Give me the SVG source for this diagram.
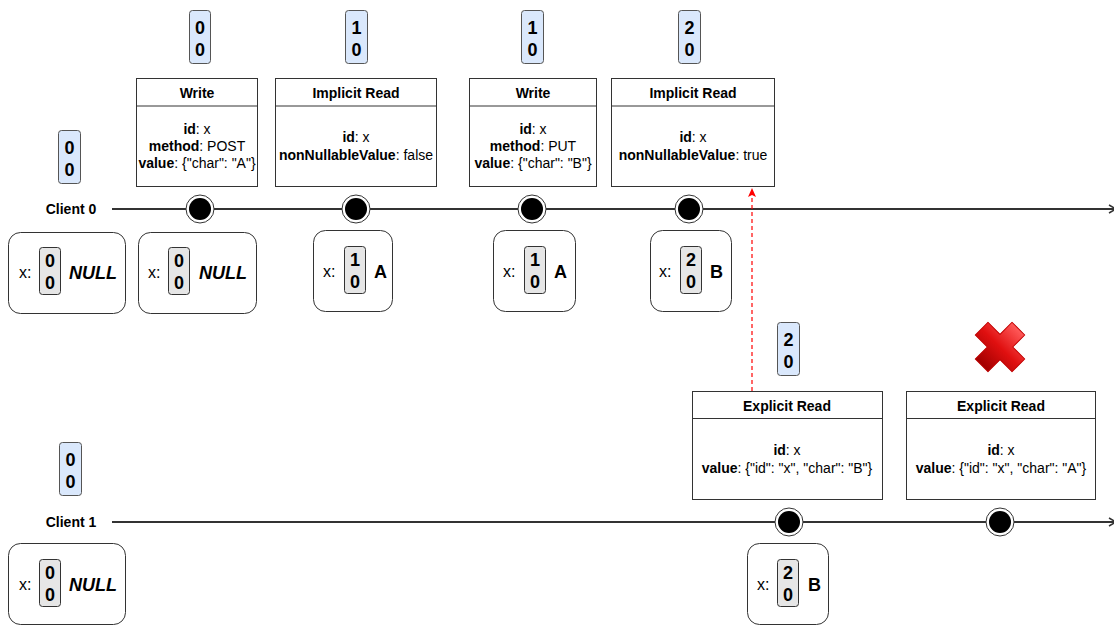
<svg xmlns="http://www.w3.org/2000/svg" width="1114" height="626" viewBox="0 0 1114 626">
  <style>
    text { font-family: "Liberation Sans", Arial, sans-serif; fill: #000; }
    .ver { fill: #dae8fc; stroke: #555; stroke-width: 1; }
    .vtx { font-size: 18px; font-weight: bold; text-anchor: middle; }
    .op { fill: #fff; stroke: #333; stroke-width: 1; }
    .title { font-size: 14px; font-weight: bold; text-anchor: middle; }
    .body { font-size: 14px; text-anchor: middle; }
    .body tspan.k { font-weight: bold; }
    .state { fill: #fff; stroke: #333; stroke-width: 1; }
    .sver { fill: #e6e6e6; stroke: #333; stroke-width: 1; }
    .svtx { font-size: 18px; font-weight: bold; text-anchor: middle; }
    .xlab { font-size: 16px; }
    .val { font-size: 18px; font-weight: bold; }
    .null { font-size: 18px; font-weight: bold; font-style: italic; }
    .client { font-size: 14px; font-weight: bold; text-anchor: middle; }
    .tl { stroke: #333; stroke-width: 2; fill: none; }
    .evo { fill: #fff; stroke: #333; stroke-width: 1; }
    .evi { fill: #000; }
  </style>
  <defs>
    <marker id="openArrow" markerWidth="10" markerHeight="10" refX="8" refY="5" orient="auto" markerUnits="userSpaceOnUse">
      <path d="M1,1 L8,5 L1,9" fill="none" stroke="#333" stroke-width="1.5"/>
    </marker>
    <marker id="redArrow" markerWidth="10" markerHeight="10" refX="8" refY="5" orient="auto" markerUnits="userSpaceOnUse">
      <path d="M0,1 L9,5 L0,9 L2,5 Z" fill="#ff0000"/>
    </marker>
    <linearGradient id="crossGrad" x1="0" y1="0" x2="0" y2="1">
      <stop offset="0" stop-color="#ff5a5a"/>
      <stop offset="0.5" stop-color="#e01010"/>
      <stop offset="1" stop-color="#a00000"/>
    </linearGradient>
  </defs>

  <!-- connectors: timelines and the dashed read dependency -->
  <g id="connectors">
    <line class="tl" x1="112" y1="209" x2="1116" y2="209" marker-end="url(#openArrow)"/>
    <line class="tl" x1="112" y1="522" x2="1116" y2="522" marker-end="url(#openArrow)"/>
    <line x1="752" y1="391" x2="752" y2="189" stroke="#ff0000" stroke-width="1.2" stroke-dasharray="4,3" marker-end="url(#redArrow)"/>
  </g>

  <!-- client labels -->
  <g id="client0-label"><text class="client" x="71" y="214">Client 0</text></g>
  <g id="client1-label"><text class="client" x="71" y="527">Client 1</text></g>

  <!-- version badges -->
  <g id="ver-c0-init">
    <rect class="ver" x="58.5" y="130.5" width="22" height="53" rx="3"/>
    <text class="vtx" x="69.5" y="154">0</text><text class="vtx" x="69.5" y="176">0</text>
  </g>
  <g id="ver-c1-init">
    <rect class="ver" x="59.5" y="442.5" width="22" height="53" rx="3"/>
    <text class="vtx" x="70.5" y="466">0</text><text class="vtx" x="70.5" y="488">0</text>
  </g>
  <g id="ver-w1">
    <rect class="ver" x="189.5" y="10.5" width="21" height="53" rx="3"/>
    <text class="vtx" x="200" y="34">0</text><text class="vtx" x="200" y="56">0</text>
  </g>
  <g id="ver-r1">
    <rect class="ver" x="345.5" y="10.5" width="22" height="53" rx="3"/>
    <text class="vtx" x="356.5" y="34">1</text><text class="vtx" x="356.5" y="56">0</text>
  </g>
  <g id="ver-w2">
    <rect class="ver" x="521.5" y="10.5" width="22" height="53" rx="3"/>
    <text class="vtx" x="532.5" y="34">1</text><text class="vtx" x="532.5" y="56">0</text>
  </g>
  <g id="ver-r2">
    <rect class="ver" x="678.5" y="10.5" width="22" height="53" rx="3"/>
    <text class="vtx" x="689.5" y="34">2</text><text class="vtx" x="689.5" y="56">0</text>
  </g>
  <g id="ver-er1">
    <rect class="ver" x="777.5" y="322.5" width="22" height="53" rx="3"/>
    <text class="vtx" x="788.5" y="346">2</text><text class="vtx" x="788.5" y="368">0</text>
  </g>

  <!-- operation boxes on Client 0 -->
  <g id="op-write1">
    <rect class="op" x="136.5" y="78.5" width="121" height="108"/>
    <line stroke="#333" x1="136.5" y1="106" x2="257.5" y2="106"/>
    <text class="title" x="197" y="98">Write</text>
    <text class="body" x="197" y="134"><tspan class="k">id</tspan>: x</text>
    <text class="body" x="197" y="151"><tspan class="k">method</tspan>: POST</text>
    <text class="body" x="197" y="168"><tspan class="k">value</tspan>: {"char": "A"}</text>
  </g>
  <g id="op-iread1">
    <rect class="op" x="275.5" y="78.5" width="161" height="108"/>
    <line stroke="#333" x1="275.5" y1="106" x2="436.5" y2="106"/>
    <text class="title" x="356" y="98">Implicit Read</text>
    <text class="body" x="356" y="142"><tspan class="k">id</tspan>: x</text>
    <text class="body" x="356" y="160"><tspan class="k">nonNullableValue</tspan>: false</text>
  </g>
  <g id="op-write2">
    <rect class="op" x="469.5" y="78.5" width="127" height="108"/>
    <line stroke="#333" x1="469.5" y1="106" x2="596.5" y2="106"/>
    <text class="title" x="533" y="98">Write</text>
    <text class="body" x="533" y="134"><tspan class="k">id</tspan>: x</text>
    <text class="body" x="533" y="151"><tspan class="k">method</tspan>: PUT</text>
    <text class="body" x="533" y="168"><tspan class="k">value</tspan>: {"char": "B"}</text>
  </g>
  <g id="op-iread2">
    <rect class="op" x="611.5" y="78.5" width="163" height="108"/>
    <line stroke="#333" x1="611.5" y1="106" x2="774.5" y2="106"/>
    <text class="title" x="693" y="98">Implicit Read</text>
    <text class="body" x="693" y="142"><tspan class="k">id</tspan>: x</text>
    <text class="body" x="693" y="160"><tspan class="k">nonNullableValue</tspan>: true</text>
  </g>

  <!-- operation boxes on Client 1 -->
  <g id="op-eread1">
    <rect class="op" x="692.5" y="391.5" width="190" height="108"/>
    <line stroke="#333" x1="692.5" y1="418.5" x2="882.5" y2="418.5"/>
    <text class="title" x="787" y="411">Explicit Read</text>
    <text class="body" x="787" y="455"><tspan class="k">id</tspan>: x</text>
    <text class="body" x="787" y="473"><tspan class="k">value</tspan>: {"id": "x", "char": "B"}</text>
  </g>
  <g id="op-eread2">
    <rect class="op" x="906.5" y="391.5" width="189" height="108"/>
    <line stroke="#333" x1="906.5" y1="418.5" x2="1095.5" y2="418.5"/>
    <text class="title" x="1001" y="411">Explicit Read</text>
    <text class="body" x="1001" y="455"><tspan class="k">id</tspan>: x</text>
    <text class="body" x="1001" y="473"><tspan class="k">value</tspan>: {"id": "x", "char": "A"}</text>
  </g>

  <!-- rejected marker above the second explicit read -->
  <g id="reject-mark" transform="translate(1000,347) rotate(45)">
    <path d="M-9,-26 L9,-26 L9,-9 L26,-9 L26,9 L9,9 L9,26 L-9,26 L-9,9 L-26,9 L-26,-9 L-9,-9 Z" fill="url(#crossGrad)" stroke="#c00000" stroke-width="1" stroke-linejoin="round"/>
  </g>

  <!-- events on timelines -->
  <g id="ev-c0-1"><circle class="evo" cx="200" cy="209" r="14"/><circle class="evi" cx="200" cy="209" r="11"/></g>
  <g id="ev-c0-2"><circle class="evo" cx="356" cy="209" r="14"/><circle class="evi" cx="356" cy="209" r="11"/></g>
  <g id="ev-c0-3"><circle class="evo" cx="532" cy="209" r="14"/><circle class="evi" cx="532" cy="209" r="11"/></g>
  <g id="ev-c0-4"><circle class="evo" cx="689" cy="209" r="14"/><circle class="evi" cx="689" cy="209" r="11"/></g>
  <g id="ev-c1-1"><circle class="evo" cx="789" cy="522" r="14"/><circle class="evi" cx="789" cy="522" r="11"/></g>
  <g id="ev-c1-2"><circle class="evo" cx="1000" cy="522" r="14"/><circle class="evi" cx="1000" cy="522" r="11"/></g>

  <!-- local state of x -->
  <g id="st-c0-0">
    <rect class="state" x="8.5" y="232.5" width="117" height="81" rx="12"/>
    <text class="xlab" x="19" y="278">x:</text>
    <rect class="sver" x="39.5" y="247.5" width="21" height="47" rx="3"/>
    <text class="svtx" x="50" y="267">0</text><text class="svtx" x="50" y="289">0</text>
    <text class="null" x="69" y="279">NULL</text>
  </g>
  <g id="st-c0-1">
    <rect class="state" x="138.5" y="232.5" width="118" height="81" rx="12"/>
    <text class="xlab" x="148" y="278">x:</text>
    <rect class="sver" x="168.5" y="247.5" width="21" height="47" rx="3"/>
    <text class="svtx" x="179" y="267">0</text><text class="svtx" x="179" y="289">0</text>
    <text class="null" x="199" y="279">NULL</text>
  </g>
  <g id="st-c0-2">
    <rect class="state" x="313.5" y="230.5" width="79" height="81" rx="12"/>
    <text class="xlab" x="323" y="277">x:</text>
    <rect class="sver" x="344.5" y="246.5" width="21" height="47" rx="3"/>
    <text class="svtx" x="355" y="266">1</text><text class="svtx" x="355" y="288">0</text>
    <text class="val" x="374" y="278">A</text>
  </g>
  <g id="st-c0-3">
    <rect class="state" x="493.5" y="230.5" width="82" height="81" rx="12"/>
    <text class="xlab" x="503" y="277">x:</text>
    <rect class="sver" x="524.5" y="246.5" width="21" height="47" rx="3"/>
    <text class="svtx" x="535" y="266">1</text><text class="svtx" x="535" y="288">0</text>
    <text class="val" x="554" y="278">A</text>
  </g>
  <g id="st-c0-4">
    <rect class="state" x="650.5" y="230.5" width="81" height="81" rx="12"/>
    <text class="xlab" x="659" y="277">x:</text>
    <rect class="sver" x="680.5" y="246.5" width="21" height="47" rx="3"/>
    <text class="svtx" x="691" y="266">2</text><text class="svtx" x="691" y="288">0</text>
    <text class="val" x="710" y="278">B</text>
  </g>
  <g id="st-c1-0">
    <rect class="state" x="8.5" y="543.5" width="117" height="81" rx="12"/>
    <text class="xlab" x="19" y="590">x:</text>
    <rect class="sver" x="39.5" y="559.5" width="21" height="47" rx="3"/>
    <text class="svtx" x="50" y="579">0</text><text class="svtx" x="50" y="601">0</text>
    <text class="null" x="69" y="591">NULL</text>
  </g>
  <g id="st-c1-1">
    <rect class="state" x="747.5" y="543.5" width="81" height="81" rx="12"/>
    <text class="xlab" x="757" y="590">x:</text>
    <rect class="sver" x="777.5" y="559.5" width="21" height="47" rx="3"/>
    <text class="svtx" x="788" y="579">2</text><text class="svtx" x="788" y="601">0</text>
    <text class="val" x="808" y="591">B</text>
  </g>
</svg>
